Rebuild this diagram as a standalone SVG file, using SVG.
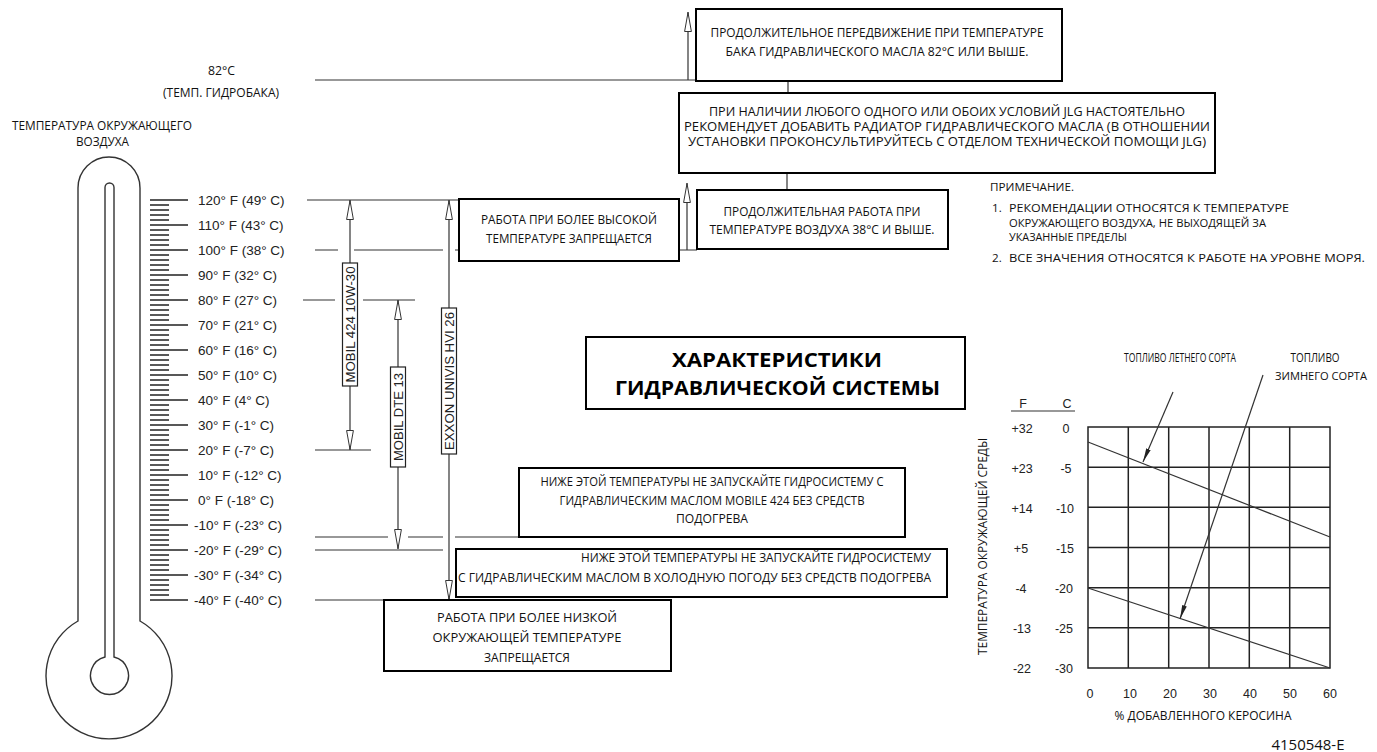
<svg xmlns="http://www.w3.org/2000/svg" width="1377" height="752" viewBox="0 0 1377 752">
<style>
.ln{stroke:#333;stroke-width:1.2;fill:none}
.tk{stroke:#222;stroke-width:1.3;fill:none}
.th{stroke:#333;stroke-width:1.4;fill:#fff}
.bx{fill:#fff;stroke:#000;stroke-width:2}
.lb{fill:#fff;stroke:#222;stroke-width:1.2}
.grid{stroke:#222;stroke-width:1.5;fill:none}
.my{font-family:"Open Sans","Noto Sans","DejaVu Sans",sans-serif;font-size:12.6px;fill:#111}
.nt{font-size:11.6px}
.lg{font-size:13.4px}
.ttl{font-family:"Open Sans","Noto Sans","DejaVu Sans",sans-serif;font-size:20px;font-weight:bold;fill:#000}
.ar{font-family:"Liberation Sans",Arial,sans-serif;font-size:13.5px;fill:#222}
.ax{font-family:"Liberation Sans",Arial,sans-serif;font-size:12.5px;fill:#222}
.vl{font-family:"Liberation Sans",Arial,sans-serif;font-size:12.5px;fill:#222}
.c{text-anchor:middle}
.e{text-anchor:end}
</style>
<defs>
<marker id="oa" viewBox="0 0 20 8" refX="20" refY="4" markerWidth="20" markerHeight="8" markerUnits="userSpaceOnUse" orient="auto-start-reverse">
<path d="M0.5,0.6 L19.5,4 L0.5,7.4 Z" fill="#fff" stroke="#333" stroke-width="1"/>
</marker>
<marker id="fa" viewBox="0 0 14 6" refX="14" refY="3" markerWidth="14" markerHeight="6" markerUnits="userSpaceOnUse" orient="auto">
<path d="M0,0.6 L14,3 L0,5.4 Z" fill="#222"/>
</marker>
</defs>
<rect width="1377" height="752" fill="#fff"/>

<g id="thermometer">
<path class="th" d="M78,621 L78,188 A31,31 0 0 1 140,188 L140,621 A63,63 0 1 1 78,621 Z"/>
<path class="th" d="M105,657 L105,187.5 A4.5,4.5 0 0 1 114,187.5 L114,657 A19,19 0 1 1 105,657 Z"/>
<path class="tk" d="M150 205h19M150 210h19M150 215h19M150 220h19M150 230h19M150 235h19M150 240h19M150 245h19M150 255h19M150 260h19M150 265h19M150 270h19M150 280h19M150 285h19M150 290h19M150 295h19M150 305h19M150 310h19M150 315h19M150 320h19M150 330h19M150 335h19M150 340h19M150 345h19M150 355h19M150 360h19M150 365h19M150 370h19M150 380h19M150 385h19M150 390h19M150 395h19M150 405h19M150 410h19M150 415h19M150 420h19M150 430h19M150 435h19M150 440h19M150 445h19M150 455h19M150 460h19M150 465h19M150 470h19M150 480h19M150 485h19M150 490h19M150 495h19M150 505h19M150 510h19M150 515h19M150 520h19M150 530h19M150 535h19M150 540h19M150 545h19M150 555h19M150 560h19M150 565h19M150 570h19M150 580h19M150 585h19M150 590h19M150 595h19"/>
<path class="tk" d="M150 200h38M150 225h38M150 250h38M150 275h38M150 300h38M150 325h38M150 350h38M150 375h38M150 400h38M150 425h38M150 450h38M150 475h38M150 500h38M150 525h38M150 550h38M150 575h38M150 600h38"/>
</g>

<g id="scale-labels">
<text class="ar" x="198" y="205">120° F (49° C)</text>
<text class="ar" x="198" y="230">110° F (43° C)</text>
<text class="ar" x="198" y="255">100° F (38° C)</text>
<text class="ar" x="198" y="280">90° F (32° C)</text>
<text class="ar" x="198" y="305">80° F (27° C)</text>
<text class="ar" x="198" y="330">70° F (21° C)</text>
<text class="ar" x="198" y="355">60° F (16° C)</text>
<text class="ar" x="198" y="380">50° F (10° C)</text>
<text class="ar" x="198" y="405">40° F (4° C)</text>
<text class="ar" x="198" y="430">30° F (-1° C)</text>
<text class="ar" x="198" y="455">20° F (-7° C)</text>
<text class="ar" x="198" y="480">10° F (-12° C)</text>
<text class="ar" x="198" y="505">0° F (-18° C)</text>
<text class="ar" x="194" y="530">-10° F (-23° C)</text>
<text class="ar" x="194" y="555">-20° F (-29° C)</text>
<text class="ar" x="194" y="580">-30° F (-34° C)</text>
<text class="ar" x="194" y="605">-40° F (-40° C)</text>
</g>

<g id="top-labels">
<text class="my c" x="221.5" y="75" textLength="27" lengthAdjust="spacingAndGlyphs">82°C</text>
<text class="my c" x="221" y="97" textLength="116" lengthAdjust="spacingAndGlyphs">(ТЕМП. ГИДРОБАКА)</text>
<text class="my c" x="102" y="130" textLength="180" lengthAdjust="spacingAndGlyphs">ТЕМПЕРАТУРА ОКРУЖАЮЩЕГО</text>
<text class="my c" x="102.5" y="146" textLength="53" lengthAdjust="spacingAndGlyphs">ВОЗДУХА</text>
</g>

<g id="connectors">
<path class="ln" d="M315,80 H696"/>
<path class="ln" d="M688,80 V12" marker-end="url(#oa)"/>
<path class="ln" d="M788,81 V93"/>
<path class="ln" d="M787,173 V190"/>
<path class="ln" d="M307,200 H459"/>
<path class="ln" d="M315,250 H338 M354,250 H443 M455,250 H459 M679,250 H697"/>
<path class="ln" d="M687,250 V183" marker-end="url(#oa)"/>
<path class="ln" d="M303,300 H335 M363,300 H415"/>
<path class="ln" d="M315,450 H371"/>
<path class="ln" d="M315,537 H388 M408,537 H443 M455,537 H519"/>
<path class="ln" d="M315,550 H443"/>
<path class="ln" d="M315,600 H384"/>
<path class="ln" d="M350,200 V450" marker-start="url(#oa)" marker-end="url(#oa)"/>
<path class="ln" d="M398,300 V549" marker-start="url(#oa)" marker-end="url(#oa)"/>
<path class="ln" d="M449,200 V600" marker-start="url(#oa)" marker-end="url(#oa)"/>
</g>

<g id="oil-mobil424">
<rect class="lb" x="342.5" y="263" width="15" height="123"/>
<text class="vl c" transform="translate(354.5,324.5) rotate(-90)" textLength="116" lengthAdjust="spacingAndGlyphs">MOBIL 424 10W-30</text>
</g>
<g id="oil-mobil-dte13">
<rect class="lb" x="390.5" y="367" width="15" height="100"/>
<text class="vl c" transform="translate(402.5,417) rotate(-90)" textLength="88" lengthAdjust="spacingAndGlyphs">MOBIL DTE 13</text>
</g>
<g id="oil-exxon">
<rect class="lb" x="441.5" y="308" width="15" height="146"/>
<text class="vl c" transform="translate(453.5,381) rotate(-90)" textLength="138" lengthAdjust="spacingAndGlyphs">EXXON UNIVIS HVI 26</text>
</g>

<g id="box-travel">
<rect class="bx" x="696" y="9" width="366" height="72"/>
<text class="my c" x="877" y="37" textLength="333" lengthAdjust="spacingAndGlyphs">ПРОДОЛЖИТЕЛЬНОЕ ПЕРЕДВИЖЕНИЕ ПРИ ТЕМПЕРАТУРЕ</text>
<text class="my c" x="877" y="56" textLength="303" lengthAdjust="spacingAndGlyphs">БАКА ГИДРАВЛИЧЕСКОГО МАСЛА 82°C ИЛИ ВЫШЕ.</text>
</g>

<g id="box-cooler">
<rect class="bx" x="679" y="93" width="536" height="80"/>
<text class="my c" x="947" y="116" textLength="476" lengthAdjust="spacingAndGlyphs">ПРИ НАЛИЧИИ ЛЮБОГО ОДНОГО ИЛИ ОБОИХ УСЛОВИЙ JLG НАСТОЯТЕЛЬНО</text>
<text class="my c" x="947" y="131" textLength="526" lengthAdjust="spacingAndGlyphs">РЕКОМЕНДУЕТ ДОБАВИТЬ РАДИАТОР ГИДРАВЛИЧЕСКОГО МАСЛА (В ОТНОШЕНИИ</text>
<text class="my c" x="947" y="146" textLength="518" lengthAdjust="spacingAndGlyphs">УСТАНОВКИ ПРОКОНСУЛЬТИРУЙТЕСЬ С ОТДЕЛОМ ТЕХНИЧЕСКОЙ ПОМОЩИ JLG)</text>
</g>

<g id="box-high">
<rect class="bx" x="459" y="199" width="220" height="62"/>
<text class="my c" x="569" y="224" textLength="176" lengthAdjust="spacingAndGlyphs">РАБОТА ПРИ БОЛЕЕ ВЫСОКОЙ</text>
<text class="my c" x="569" y="243" textLength="166" lengthAdjust="spacingAndGlyphs">ТЕМПЕРАТУРЕ ЗАПРЕЩАЕТСЯ</text>
</g>

<g id="box-air38">
<rect class="bx" x="697" y="190" width="251" height="59"/>
<text class="my c" x="822" y="216" textLength="197" lengthAdjust="spacingAndGlyphs">ПРОДОЛЖИТЕЛЬНАЯ РАБОТА ПРИ</text>
<text class="my c" x="822" y="234" textLength="225" lengthAdjust="spacingAndGlyphs">ТЕМПЕРАТУРЕ ВОЗДУХА 38°C И ВЫШЕ.</text>
</g>

<g id="notes">
<text class="my nt" x="990" y="191" textLength="84" lengthAdjust="spacingAndGlyphs">ПРИМЕЧАНИЕ.</text>
<text class="my nt" x="992" y="212">1.</text>
<text class="my nt" x="1009" y="212" textLength="280" lengthAdjust="spacingAndGlyphs">РЕКОМЕНДАЦИИ ОТНОСЯТСЯ К ТЕМПЕРАТУРЕ</text>
<text class="my nt" x="1009" y="226.5" textLength="257" lengthAdjust="spacingAndGlyphs">ОКРУЖАЮЩЕГО ВОЗДУХА, НЕ ВЫХОДЯЩЕЙ ЗА</text>
<text class="my nt" x="1009" y="241" textLength="118" lengthAdjust="spacingAndGlyphs">УКАЗАННЫЕ ПРЕДЕЛЫ</text>
<text class="my nt" x="992" y="262">2.</text>
<text class="my nt" x="1009" y="262" textLength="356" lengthAdjust="spacingAndGlyphs">ВСЕ ЗНАЧЕНИЯ ОТНОСЯТСЯ К РАБОТЕ НА УРОВНЕ МОРЯ.</text>
</g>

<g id="title">
<rect class="bx" x="586" y="337" width="379" height="72"/>
<text class="ttl c" x="777" y="367" textLength="210" lengthAdjust="spacingAndGlyphs">ХАРАКТЕРИСТИКИ</text>
<text class="ttl c" x="777.5" y="395" textLength="325" lengthAdjust="spacingAndGlyphs">ГИДРАВЛИЧЕСКОЙ СИСТЕМЫ</text>
</g>

<g id="box-mobil424-cold">
<rect class="bx" x="519" y="468" width="386" height="69"/>
<text class="my c" x="712" y="486" textLength="343" lengthAdjust="spacingAndGlyphs">НИЖЕ ЭТОЙ ТЕМПЕРАТУРЫ НЕ ЗАПУСКАЙТЕ ГИДРОСИСТЕМУ С</text>
<text class="my c" x="712" y="505" textLength="305" lengthAdjust="spacingAndGlyphs">ГИДРАВЛИЧЕСКИМ МАСЛОМ MOBILE 424 БЕЗ СРЕДСТВ</text>
<text class="my c" x="712" y="523" textLength="72" lengthAdjust="spacingAndGlyphs">ПОДОГРЕВА</text>
</g>

<g id="box-cold-weather">
<rect class="bx" x="456" y="549" width="491" height="48"/>
<text class="my e" x="931" y="562" textLength="350" lengthAdjust="spacingAndGlyphs">НИЖЕ ЭТОЙ ТЕМПЕРАТУРЫ НЕ ЗАПУСКАЙТЕ ГИДРОСИСТЕМУ</text>
<text class="my e" x="931" y="582" textLength="473" lengthAdjust="spacingAndGlyphs">С ГИДРАВЛИЧЕСКИМ МАСЛОМ В ХОЛОДНУЮ ПОГОДУ БЕЗ СРЕДСТВ ПОДОГРЕВА</text>
</g>

<g id="box-low">
<rect class="bx" x="384" y="600" width="287" height="71"/>
<text class="my lg c" x="527" y="622" textLength="180" lengthAdjust="spacingAndGlyphs">РАБОТА ПРИ БОЛЕЕ НИЗКОЙ</text>
<text class="my lg c" x="527" y="642" textLength="189" lengthAdjust="spacingAndGlyphs">ОКРУЖАЮЩЕЙ ТЕМПЕРАТУРЕ</text>
<text class="my lg c" x="527" y="662" textLength="86" lengthAdjust="spacingAndGlyphs">ЗАПРЕЩАЕТСЯ</text>
</g>

<g id="chart">
<path class="grid" d="M1088,427 H1330 V668 H1088 Z M1128.3,427 V668 M1168.7,427 V668 M1209,427 V668 M1249.3,427 V668 M1289.7,427 V668 M1088,467.2 H1330 M1088,507.3 H1330 M1088,547.5 H1330 M1088,587.7 H1330 M1088,627.8 H1330"/>
<path class="ln" d="M1088,442 L1330,537"/>
<path class="ln" d="M1088,588 L1330,668"/>
<path class="ln" d="M1173,392 L1143,462" marker-end="url(#fa)"/>
<path class="ln" d="M1263,375 L1180,619" marker-end="url(#fa)"/>
<path class="ln" d="M1011,411 H1075"/>
<text class="ax c" x="1023" y="408">F</text>
<text class="ax c" x="1067" y="408">C</text>
<text class="ax c" x="1022" y="432.5">+32</text><text class="ax c" x="1066" y="432.5">0</text>
<text class="ax c" x="1022" y="472.5">+23</text><text class="ax c" x="1066" y="472.5">-5</text>
<text class="ax c" x="1022" y="512.5">+14</text><text class="ax c" x="1065" y="512.5">-10</text>
<text class="ax c" x="1021" y="552.5">+5</text><text class="ax c" x="1065" y="552.5">-15</text>
<text class="ax c" x="1021" y="592.5">-4</text><text class="ax c" x="1064" y="592.5">-20</text>
<text class="ax c" x="1022" y="632.5">-13</text><text class="ax c" x="1064" y="632.5">-25</text>
<text class="ax c" x="1022" y="672.5">-22</text><text class="ax c" x="1064" y="672.5">-30</text>
<text class="ax c" x="1090" y="697.5">0</text>
<text class="ax c" x="1130" y="697.5">10</text>
<text class="ax c" x="1170" y="697.5">20</text>
<text class="ax c" x="1210" y="697.5">30</text>
<text class="ax c" x="1250" y="697.5">40</text>
<text class="ax c" x="1290" y="697.5">50</text>
<text class="ax c" x="1330" y="697.5">60</text>
<text class="my c" x="1203" y="720" textLength="177" lengthAdjust="spacingAndGlyphs">% ДОБАВЛЕННОГО КЕРОСИНА</text>
<text class="my c" transform="translate(986.5,546.5) rotate(-90)" textLength="217" lengthAdjust="spacingAndGlyphs">ТЕМПЕРАТУРА ОКРУЖАЮЩЕЙ СРЕДЫ</text>
<text class="my c" x="1180" y="362" textLength="112" lengthAdjust="spacingAndGlyphs">ТОПЛИВО ЛЕТНЕГО СОРТА</text>
<text class="my c" x="1315" y="362" textLength="49" lengthAdjust="spacingAndGlyphs">ТОПЛИВО</text>
<text class="my nt c" x="1321" y="380" textLength="92" lengthAdjust="spacingAndGlyphs">ЗИМНЕГО СОРТА</text>
</g>

<g id="drawing-number">
<text class="my c" x="1308" y="750" style="font-size:14px" textLength="73" lengthAdjust="spacingAndGlyphs">4150548-E</text>
</g>
</svg>
